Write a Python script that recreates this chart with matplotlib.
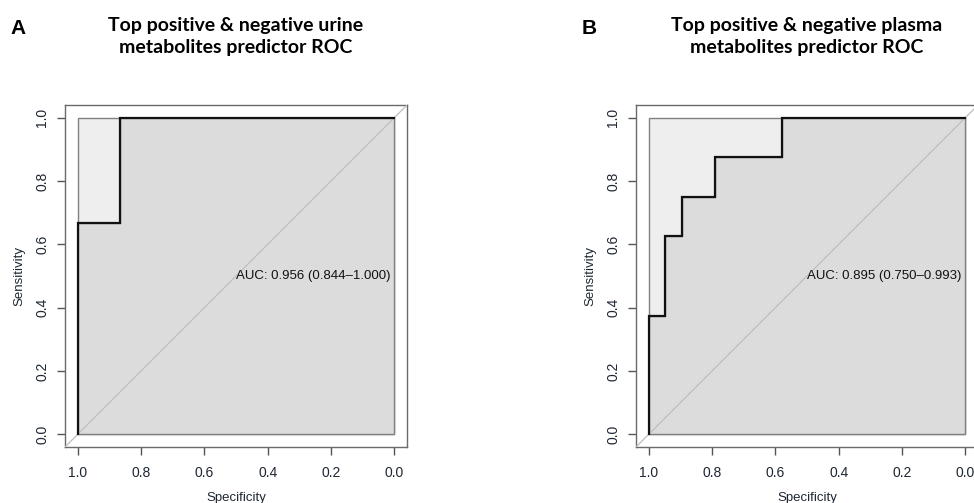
import matplotlib
matplotlib.use('Agg')
import matplotlib.pyplot as plt
from matplotlib.patches import Rectangle, Polygon

# ROC data (specificity, sensitivity)
urine_spec = [1.0, 1.0, 0.867, 0.867, 0.0]
urine_sens = [0.0, 0.667, 0.667, 1.0, 1.0]
urine_auc_text = 'AUC: 0.956 (0.844\u20131.000)'
urine_title = 'Top positive & negative urine\nmetabolites predictor ROC'

plasma_spec = [1.0, 1.0, 0.947, 0.947, 0.895, 0.895, 0.789, 0.789, 0.579, 0.579, 0.0]
plasma_sens = [0.0, 0.375, 0.375, 0.625, 0.625, 0.75, 0.75, 0.875, 0.875, 1.0, 1.0]
plasma_auc_text = 'AUC: 0.895 (0.750\u20130.993)'
plasma_title = 'Top positive & negative plasma\nmetabolites predictor ROC'

ticks = [1.0, 0.8, 0.6, 0.4, 0.2, 0.0]
tick_labels = ['1.0', '0.8', '0.6', '0.4', '0.2', '0.0']

W, H = 974, 503
text_col = '#1e2633'
plt.rcParams['font.family'] = ['Liberation Sans', 'DejaVu Sans']

fig = plt.figure(figsize=(W / 100, H / 100), dpi=100)


def roc_panel(left_px, spec, sens, auc_text, title, letter, letter_x):
    box = 342
    ax = fig.add_axes([left_px / W, (H - 447) / H, box / W, box / H])
    ax.set_xlim(1.04, -0.04)
    ax.set_ylim(-0.04, 1.04)

    # max AUC square and AUC polygon
    ax.add_patch(Rectangle((0, 0), 1, 1, facecolor='#EEEEEE', edgecolor='#808080', lw=1.0, zorder=1))
    pts = list(zip(spec, sens)) + [(0.0, 0.0)]
    ax.add_patch(Polygon(pts, closed=True, facecolor='#DCDCDC', edgecolor='#808080', lw=1.0, zorder=2))
    # diagonal
    ax.plot([1.04, -0.04], [-0.04, 1.04], color='#BEBEBE', lw=0.9, zorder=3)
    # ROC curve
    ax.plot(spec, sens, color='#111111', lw=1.6, zorder=4, solid_joinstyle='miter')

    ax.text(0.5, 0.5, auc_text, ha='left', va='center', fontsize=9.5, color='#111111', zorder=5)

    for s in ax.spines.values():
        s.set_color('#6a6a6a')
        s.set_linewidth(1.0)
    ax.set_xticks(ticks)
    ax.set_xticklabels(tick_labels)
    ax.set_yticks(ticks)
    ax.set_yticklabels(tick_labels, rotation=90, va='center')
    ax.tick_params(length=5.5, width=1.0, color='#555555', labelsize=10,
                   labelcolor=text_col)
    ax.tick_params(axis='x', pad=8)
    ax.tick_params(axis='y', pad=6)
    ax.set_xlabel('Specificity', fontsize=9.5, color=text_col, labelpad=9)
    ax.set_ylabel('Sensitivity', fontsize=9.5, color=text_col, labelpad=7)

    cx = (left_px + box / 2) / W
    fig.text(cx, 1 - 17 / H, title, ha='center', va='top', fontsize=14,
             fontweight='bold', family=['Lato', 'DejaVu Sans'], linespacing=1.35)
    fig.text(letter_x / W, 1 - 29 / H, letter, ha='left', va='center', fontsize=15,
             fontweight='bold')
    return ax


roc_panel(65, urine_spec, urine_sens, urine_auc_text, urine_title, 'A', 10)
roc_panel(636, plasma_spec, plasma_sens, plasma_auc_text, plasma_title, 'B', 582)

fig.savefig('out.png', dpi=100)
